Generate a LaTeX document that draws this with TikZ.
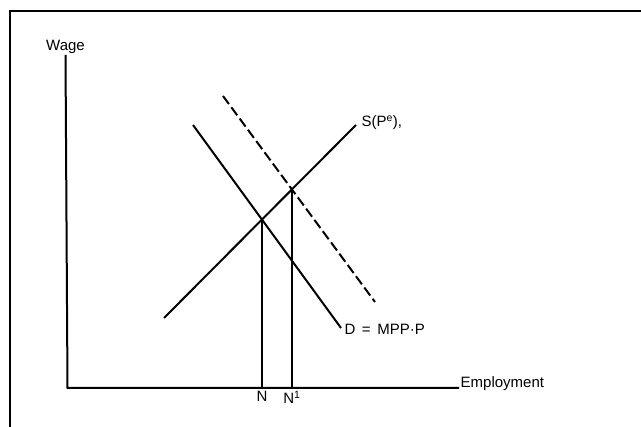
\documentclass[tikz,border=0pt]{standalone}
\usepackage{fontspec}
\setmainfont{Liberation Sans}
\usetikzlibrary{intersections,positioning}

\begin{document}
\begin{tikzpicture}[
  x=1pt,y=-1pt,
  curve/.style={line width=2pt},
  axis/.style={line width=2pt},
  lbl/.style={font=\fontsize{15}{17}\selectfont,inner sep=1.5pt}
]
  \useasboundingbox (0,0) rectangle (641,427);
  \draw[line width=2pt] (10,427) |- (641,11);
  % axes
  \coordinate (origin) at (67.5,388);
  \node[lbl,anchor=south] (wage) at (65.5,55) {Wage};
  \node[lbl,anchor=west] (empl) at (459,384) {Employment};
  \draw[axis] (wage.south) -- (origin) -- (origin -| empl.west);
  % supply and demand
  \draw[curve,name path=supply] (164,318) -- (356,125)
    node[lbl,anchor=west,xshift=3pt,yshift=2pt] (slbl) {S(P\textsuperscript{e}),};
  \draw[curve,name path=demand] (193,125) -- (341,328)
    node[lbl,anchor=west,xshift=1pt,yshift=-1pt] (dlbl) {D \,=\, MPP·P};
  \draw[curve,name path=newdemand,dash pattern=on 10pt off 4pt] (223,96) -- (375,302);
  % equilibria
  \path[name intersections={of=supply and demand,by=eqN}];
  \path[name intersections={of=supply and newdemand,by=eqNone}];
  \draw[curve] (eqN) -- (eqN |- origin) node[lbl,below=1pt] (nlbl) {N};
  \draw[curve] (eqNone) -- (eqNone |- origin) node[lbl,below=1pt] (nonelbl) {N\textsuperscript{1}};
\end{tikzpicture}
\end{document}
